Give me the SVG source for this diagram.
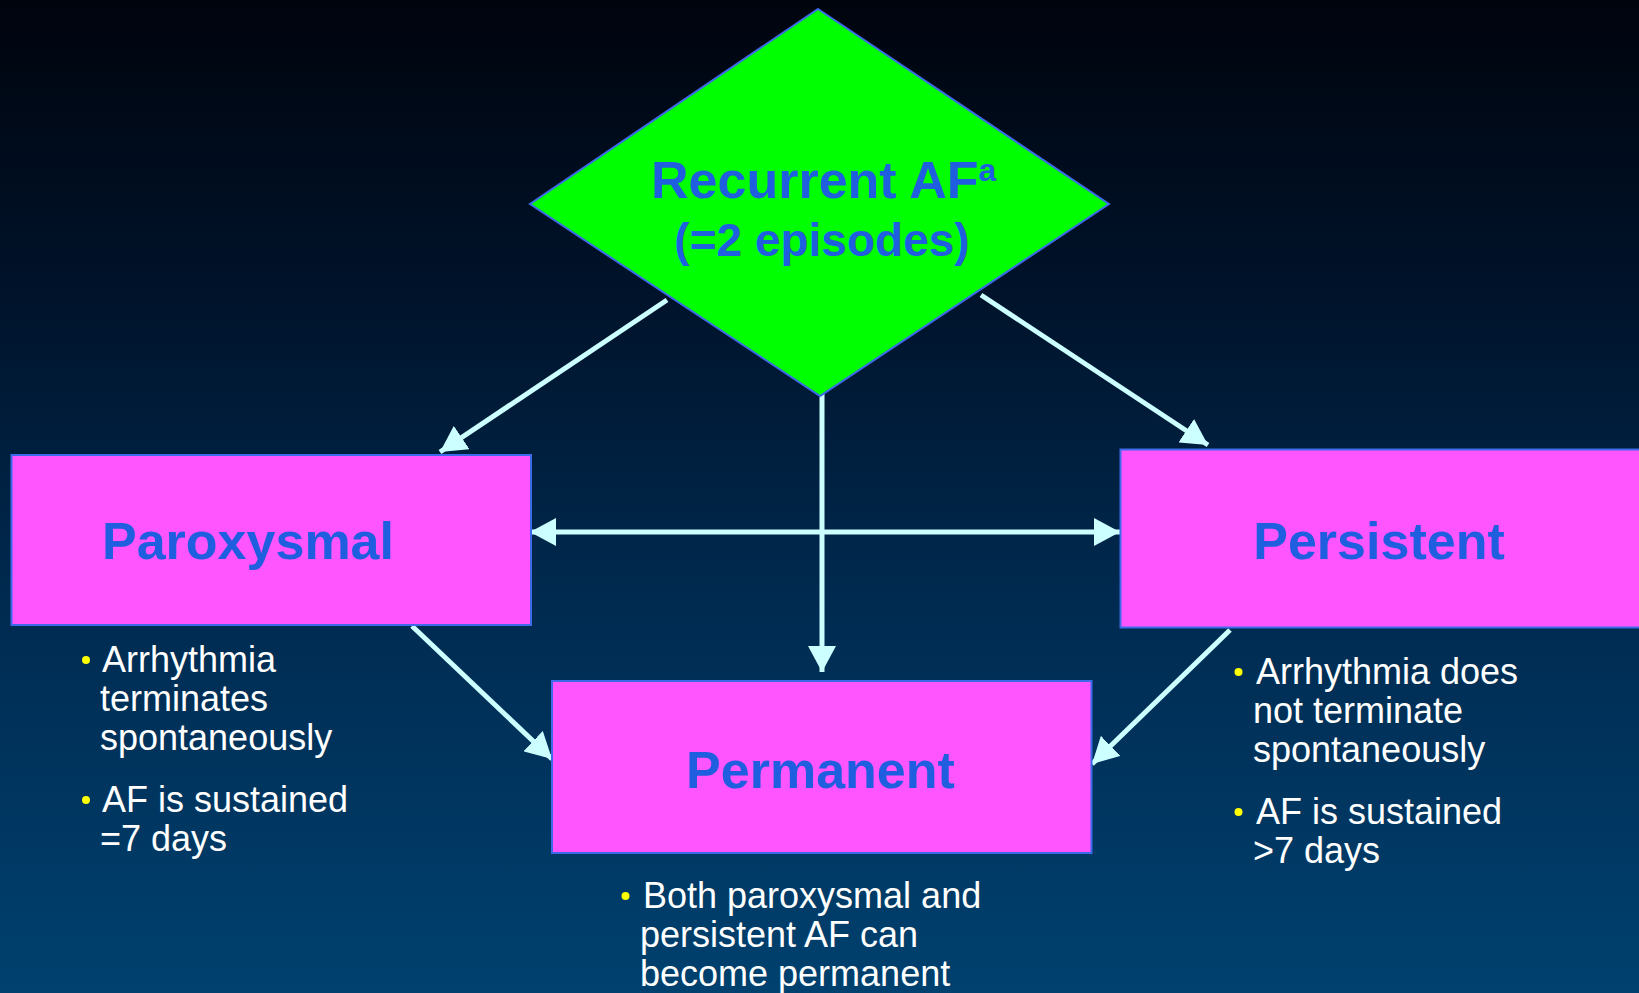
<svg xmlns="http://www.w3.org/2000/svg" width="1639" height="993" viewBox="0 0 1639 993">
<defs>
<linearGradient id="bg" x1="0" y1="0" x2="0" y2="1">
<stop offset="0" stop-color="#00040d"/>
<stop offset="0.3" stop-color="#00132b"/>
<stop offset="0.6" stop-color="#002a50"/>
<stop offset="1" stop-color="#00416f"/>
</linearGradient>
<marker id="ah" viewBox="0 0 26 28" refX="26" refY="14" markerWidth="26" markerHeight="28" markerUnits="userSpaceOnUse" orient="auto-start-reverse">
<path d="M0,0 L26,14 L0,28 Z" fill="#ccffff"/>
</marker>
</defs>
<style>
.box{fill:#ff55ff;stroke:#3d6ae8;stroke-width:2}
.dia{fill:#00ff00;stroke:#3d6ae8;stroke-width:2}
.title{font-family:"Liberation Sans",Arial,sans-serif;font-weight:bold;font-size:52px;fill:#1f5fdf}
.txt{font-family:"Liberation Sans",Arial,sans-serif;font-size:36px;fill:#ffffff}
.bul{fill:#ffff00}
.con{stroke:#ccffff;stroke-width:5;fill:none}
</style>
<rect x="0" y="0" width="1639" height="993" fill="url(#bg)"/>

<g id="connectors">
<line class="con" x1="667" y1="300" x2="440" y2="452" marker-end="url(#ah)"/>
<line class="con" x1="981" y1="295" x2="1208" y2="445" marker-end="url(#ah)"/>
<line class="con" x1="822" y1="394" x2="822" y2="672" marker-end="url(#ah)"/>
<line class="con" x1="530" y1="532" x2="1120" y2="532" marker-start="url(#ah)" marker-end="url(#ah)"/>
<line class="con" x1="412" y1="626" x2="552" y2="759" marker-end="url(#ah)"/>
<line class="con" x1="1230" y1="630" x2="1092" y2="764" marker-end="url(#ah)"/>
</g>

<g id="recurrent">
<polygon class="dia" points="818,9 1109,204 820,396 530,204"/>
<text class="title" x="651" y="198">Recurrent AF<tspan font-size="32" dy="-17">a</tspan></text>
<text class="title" x="822" y="256" font-size="46" text-anchor="middle" style="font-size:46px">(=2 episodes)</text>
</g>

<g id="paroxysmal">
<rect class="box" x="11.5" y="455" width="519.5" height="170"/>
<text class="title" x="248" y="559" text-anchor="middle">Paroxysmal</text>
</g>

<g id="persistent">
<rect class="box" x="1120.5" y="449.5" width="530" height="178"/>
<text class="title" x="1379" y="559" text-anchor="middle">Persistent</text>
</g>

<g id="permanent">
<rect class="box" x="552" y="681" width="539.5" height="172"/>
<text class="title" x="820.5" y="788" text-anchor="middle">Permanent</text>
</g>

<g id="paroxysmal-notes">
<circle class="bul" cx="86" cy="660" r="4"/>
<text class="txt" x="102" y="672">Arrhythmia</text>
<text class="txt" x="100" y="711">terminates</text>
<text class="txt" x="100" y="750">spontaneously</text>
<circle class="bul" cx="86" cy="800" r="4"/>
<text class="txt" x="102" y="812">AF is sustained</text>
<text class="txt" x="100" y="851">=7 days</text>
</g>

<g id="persistent-notes">
<circle class="bul" cx="1238.5" cy="672" r="4"/>
<text class="txt" x="1256" y="684">Arrhythmia does</text>
<text class="txt" x="1253" y="723">not terminate</text>
<text class="txt" x="1253" y="762">spontaneously</text>
<circle class="bul" cx="1238.5" cy="812" r="4"/>
<text class="txt" x="1256" y="824">AF is sustained</text>
<text class="txt" x="1253" y="863">&gt;7 days</text>
</g>

<g id="permanent-notes">
<circle class="bul" cx="625.5" cy="896" r="4"/>
<text class="txt" x="643" y="908">Both paroxysmal and</text>
<text class="txt" x="640" y="947">persistent AF can</text>
<text class="txt" x="640" y="986">become permanent</text>
</g>
</svg>
